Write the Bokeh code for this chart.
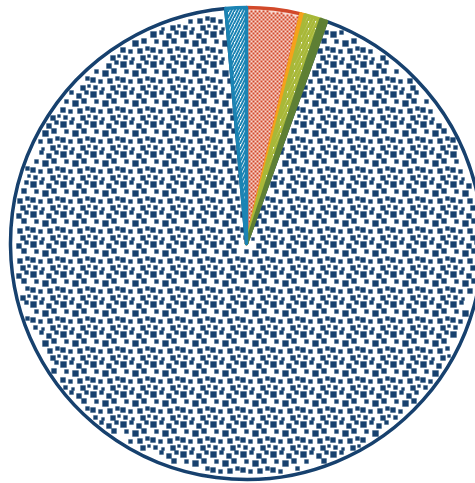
import math
from bokeh.plotting import figure
from bokeh.models import Range1d
from bokeh.embed import file_html
from bokeh.resources import INLINE

# Data (shares, clockwise from 12 o'clock)
categories = ["A", "B", "C", "D", "E", "F"]
values = [3.7, 0.3, 1.1, 0.4, 93.1, 1.4]
colors = ["#D2492A", "#F5A21B", "#A8B838", "#5E7F34", "#17416E", "#1B84B4"]

W, H = 475, 483
p = figure(width=W, height=H, output_backend="svg", toolbar_location=None,
           x_range=Range1d(0, W), y_range=Range1d(0, H), min_border=0)
p.axis.visible = False
p.grid.visible = False
p.outline_line_color = None
p.background_fill_color = "white"
p.border_fill_color = "white"

cx, cy, r = 246, H - 243, 236

total = sum(values)
starts, ends, bear0, bear1 = [], [], [], []
acc = 0.0
for v in values:
    bear0.append(360.0 * acc / total)
    a0 = math.pi / 2 - 2 * math.pi * acc / total
    acc += v
    bear1.append(360.0 * acc / total)
    a1 = math.pi / 2 - 2 * math.pi * acc / total
    starts.append(a0)
    ends.append(a1)


def inside(i, x, y, margin_r=3.0, margin_a=0.8):
    dx, dy = x - cx, y - cy
    d = math.hypot(dx, dy)
    if d > r - margin_r or d < 6:
        return False
    b = math.degrees(math.atan2(dx, dy)) % 360
    return bear0[i] + margin_a < b < bear1[i] - margin_a


def texture(i, tile, size, mr=2.5, ma=0.6):
    xs, ys, ss = [], [], []
    ty = 0
    while ty < H + size:
        tx = 0
        while tx < W + size:
            for (qx, qy, s) in tile:
                x = tx + qx + s / 2
                y = H - (ty + qy + s / 2)
                if inside(i, x, y, margin_r=s / 2 + mr, margin_a=ma):
                    xs.append(x); ys.append(y); ss.append(s)
            tx += size
        ty += size
    return xs, ys, ss


base = dict(x=cx, y=cy, radius=r, direction="clock", line_join="round")

# Big navy slice with confetti
i = 4
p.wedge(start_angle=starts[i], end_angle=ends[i], fill_color="white",
        line_color=colors[i], line_width=3.5, **base)
conf = [(0, 1, 6), (9, 0, 4), (16, 3, 5), (24, 0, 4),
        (4, 9, 4), (12, 10, 6), (21, 8, 5),
        (0, 17, 5), (8, 19, 4), (17, 18, 5), (25, 16, 4),
        (3, 25, 4), (11, 27, 3), (20, 25, 5), (27, 24, 3)]
xs, ys, ss = texture(i, conf, 30)
p.rect(x=xs, y=ys, width=ss, height=ss, fill_color=colors[i],
       line_color=colors[i], line_alpha=0.3, line_width=1)

# Red checker slice
i = 0
p.wedge(start_angle=starts[i], end_angle=ends[i], fill_color="#F8D9D0",
        line_color=colors[i], line_width=3.5, **base)
chk = [(0, 0, 2), (2, 2, 2)]
xs, ys, ss = texture(i, chk, 4, mr=2.0, ma=0.3)
p.rect(x=xs, y=ys, width=ss, height=ss, fill_color=colors[i], line_color=None)

# Orange (solid)
i = 1
p.wedge(start_angle=starts[i], end_angle=ends[i], fill_color=colors[i],
        line_color=colors[i], line_width=3.5, **base)

# Yellow-green wide diagonal stripes
i = 2
p.wedge(start_angle=starts[i], end_angle=ends[i], fill_color="white",
        hatch_color=colors[i], hatch_pattern="right_diagonal_line",
        hatch_scale=7, hatch_weight=3,
        line_color=colors[i], line_width=3.5, **base)

# Dark green (solid)
i = 3
p.wedge(start_angle=starts[i], end_angle=ends[i], fill_color=colors[i],
        line_color=colors[i], line_width=3.5, **base)

# Blue diagonal lines
i = 5
p.wedge(start_angle=starts[i], end_angle=ends[i], fill_color="white",
        hatch_color=colors[i], hatch_pattern="right_diagonal_line",
        hatch_scale=6, hatch_weight=2,
        line_color=colors[i], line_width=3.5, **base)

open("out.html", "w").write(file_html(p, INLINE))
